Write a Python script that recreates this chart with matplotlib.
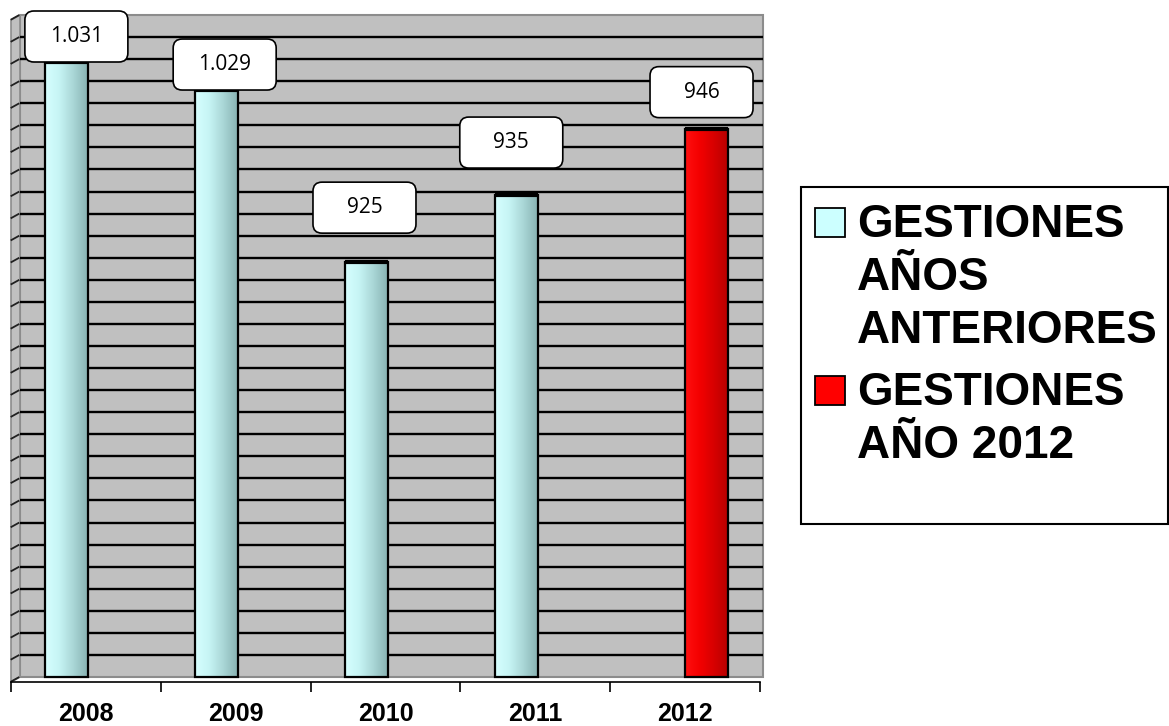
import numpy as np
import matplotlib.pyplot as plt
from matplotlib.colors import LinearSegmentedColormap
from matplotlib.patches import Rectangle, Polygon, FancyBboxPatch
from matplotlib.transforms import IdentityTransform

years = ['2008', '2009', '2010', '2011', '2012']
# bar heights, in gridline steps above the floor
anteriores = [27.87, 26.60, 18.80, 21.84]
actual = [24.85]
# value labels as printed in the boxes
etiquetas = ['1.031', '1.029', '925', '935', '946']
series = ['GESTIONES\nAÑOS\nANTERIORES', 'GESTIONES\nAÑO 2012']
series_colors = ['#ccffff', '#ff0000']

W, H = 1169, 726
fig = plt.figure(figsize=(W / 100, H / 100), dpi=100)
fig.patch.set_facecolor('white')
ident = IdentityTransform()

# plot box in image pixels
px_l, px_r, px_t, px_b = 11, 763, 15, 682
ax = fig.add_axes([px_l / W, 1 - px_b / H, (px_r - px_l) / W, (px_b - px_t) / H])
xmax = 4.52
ybot = -0.2266
ax.set_facecolor('none')
for s in ['top', 'right', 'left']:
    ax.spines[s].set_visible(False)
ax.spines['bottom'].set_bounds(-0.5, 4.5)
ax.spines['bottom'].set_linewidth(1.2)
ax.set_yticks([])
ax.set_xticks(np.arange(-0.5, 5, 1))
ax.set_xticklabels([])
ax.set_xticks(np.arange(5), minor=True)
ax.set_xticklabels(years, minor=True, fontsize=18, fontweight='bold',
                   family='Liberation Sans')
ax.tick_params(axis='x', which='major', direction='out', length=7, width=1.2)
ax.tick_params(axis='x', which='minor', length=0, pad=14.5)

# back wall + side wall
wall_x0 = -0.44
ax.add_patch(Rectangle((wall_x0, 0), xmax - wall_x0, 30, facecolor='#c0c0c0',
                       edgecolor='#8c8c8c', lw=1.5, zorder=0, clip_on=False))
ax.add_patch(Polygon([(-0.5, ybot), (wall_x0, 0), (wall_x0, 30), (-0.5, 30 + ybot)],
                     facecolor='#c0c0c0', edgecolor='#8c8c8c', lw=1.2, zorder=0,
                     clip_on=False))
for k in range(1, 30):
    ax.plot([wall_x0, xmax], [k, k], color='black', lw=1.7, zorder=1,
            solid_capstyle='butt', clip_on=False)
for k in range(0, 31):
    ax.plot([-0.497, wall_x0 - 0.01], [k + ybot + 0.03, k - 0.02], color='#202020',
            lw=1.3, zorder=1, clip_on=False)

cyan_map = LinearSegmentedColormap.from_list('cyl_c', ['#d6ffff', '#c6f4f4', '#a9d6d6', '#88b2b2'])
red_map = LinearSegmentedColormap.from_list('cyl_r', ['#ff1010', '#f40000', '#d80000', '#b80000'])
grad = np.linspace(0, 1, 128).reshape(1, -1)

bw = 0.287
x_ant = np.arange(len(anteriores)) - 0.127
x_act = np.arange(len(anteriores), len(years)) + 0.143


def draw_bars(xs, hs, cmap):
    bars = ax.bar(xs, hs, bw, facecolor='none', edgecolor='black', lw=1.6, zorder=4)
    for b in bars:
        x0, h = b.get_x(), b.get_height()
        ax.imshow(grad, extent=[x0, x0 + bw, 0, h], aspect='auto', cmap=cmap,
                  zorder=3, interpolation='bilinear')
        ax.plot([x0, x0 + bw], [h, h], color='black', lw=3, zorder=5,
                solid_capstyle='butt')


draw_bars(x_ant, anteriores, cyan_map)
draw_bars(x_act, actual, red_map)
ax.set_xlim(-0.5, xmax)
ax.set_ylim(ybot, 30)

# value label boxes (pixel offsets from bar top)
label_dx = [9.5, 8, -2, -5, -5]
label_gap = [0, 0, 29, 27, 11]
bx_w, bx_h = 103, 51
for x, h, lab, dx, gap in zip(list(x_ant) + list(x_act), anteriores + actual,
                              etiquetas, label_dx, label_gap):
    cx, ty = ax.transData.transform((x, h))
    by = ty + gap
    fig.add_artist(FancyBboxPatch((cx + dx - bx_w / 2, by), bx_w, bx_h,
                                  boxstyle='round,pad=0,rounding_size=9',
                                  transform=ident, facecolor='white',
                                  edgecolor='black', lw=1.2, zorder=5))
    fig.text(cx + dx, by + bx_h / 2, lab, transform=ident, ha='center', va='center',
             fontsize=15, family='Open Sans', zorder=6)

# legend drawn by hand: marker aligned with first line
fig.add_artist(Rectangle((801, H - 524), 367, 337, transform=ident, facecolor='white',
                         edgecolor='black', lw=1.5, zorder=5))
first_base = [237, 405]
for name, col, b0 in zip(series, series_colors, first_base):
    fig.add_artist(Rectangle((815, H - b0), 30, 29, transform=ident, facecolor=col,
                             edgecolor='black', lw=1.3, zorder=6))
    for i, line in enumerate(name.split('\n')):
        fig.text(857, H - (b0 + i * 53), line, transform=ident, ha='left',
                 va='baseline', fontsize=33, fontweight='bold',
                 family='Liberation Sans', zorder=6)

fig.savefig('out.png', dpi=100)
